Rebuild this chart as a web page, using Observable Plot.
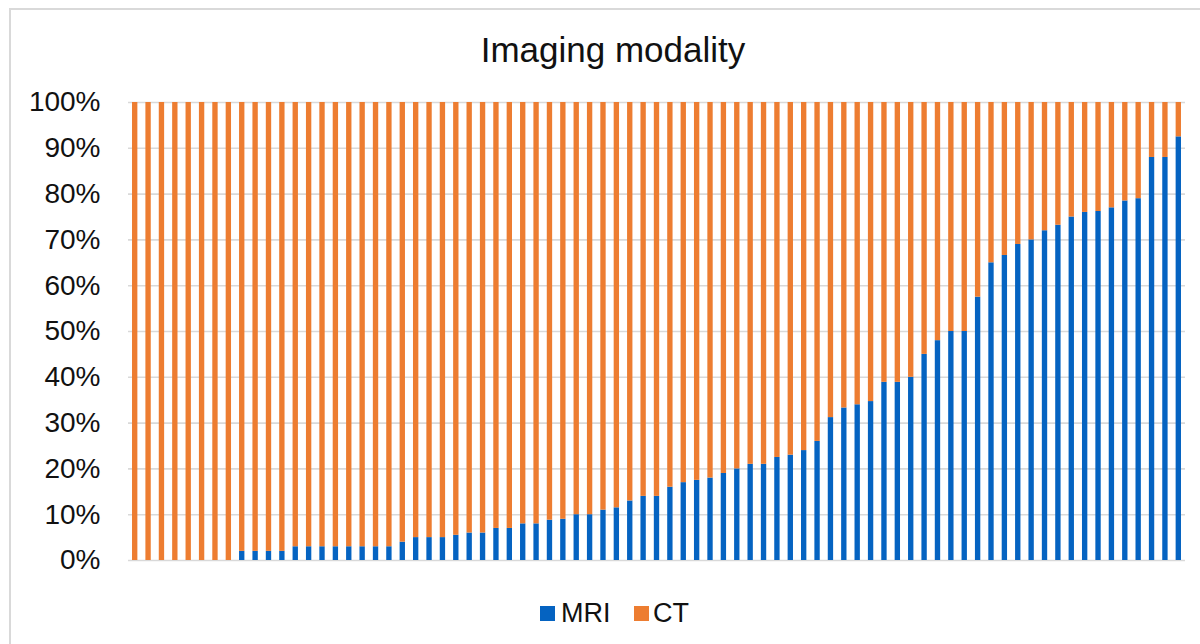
<!DOCTYPE html>
<html>
<head>
<meta charset="utf-8">
<script src="https://cdn.jsdelivr.net/npm/d3@7"></script>
<script src="https://cdn.jsdelivr.net/npm/@observablehq/plot@0.6"></script>
<style>
  html, body { margin: 0; padding: 0; background: #fff; }
  #wrap { position: relative; width: 1200px; height: 644px; overflow: hidden; font-family: "Liberation Sans", Arial, sans-serif; color: #111; }
  #border { position: absolute; left: 9px; top: 8px; width: 1300px; height: 800px; border: 2px solid #d9d9d9; box-sizing: border-box; }
  #chart { position: absolute; left: 0; top: 0; }
  #title { position: absolute; left: 0; width: 1226px; top: 32px; text-align: center; font-size: 35px; line-height: 35px; white-space: nowrap; }
  .lg-sq { position: absolute; width: 15px; height: 15px; top: 606px; }
  .lg-tx { position: absolute; font-size: 27px; line-height: 27px; top: 600px; white-space: nowrap; }
</style>
</head>
<body>
<div id="wrap">
  <div id="border"></div>
  <div id="chart"></div>
  <div id="title">Imaging modality</div>
  <div class="lg-sq" style="left:540px;background:#0563C1"></div>
  <div class="lg-tx" style="left:561px">MRI</div>
  <div class="lg-sq" style="left:634px;background:#ED7D31"></div>
  <div class="lg-tx" style="left:653px">CT</div>
</div>
<script>
// Series values (percent), one per study, sorted by MRI share
const seriesNames = ["MRI", "CT"];
const mri = [0,0,0,0,0,0,0,0, 2,2,2,2, 3,3,3,3,3,3,3,3, 4, 5,5,5, 5.5, 6,6, 7,7, 8,8, 8.8, 9, 10,10, 11, 11.5, 13, 14,14, 16, 17, 17.5, 18, 19, 20, 21,21, 22.5, 23, 24, 26, 31.2, 33.3, 34, 34.7, 38.9,38.9, 40, 45, 48, 50,50, 57.5, 65, 66.6, 69, 70, 72, 73.2, 75, 76, 76.2, 77, 78.5, 79, 88,88, 92.5];
const ct = [100,100,100,100,100,100,100,100, 98,98,98,98, 97,97,97,97,97,97,97,97, 96, 95,95,95, 94.5, 94,94, 93,93, 92,92, 91.2, 91, 90,90, 89, 88.5, 87, 86,86, 84, 83, 82.5, 82, 81, 80, 79,79, 77.5, 77, 76, 74, 68.8, 66.7, 66, 65.3, 61.1,61.1, 60, 55, 52, 50,50, 42.5, 35, 33.4, 31, 30, 28, 26.8, 25, 24, 23.8, 23, 21.5, 21, 12,12, 7.5];
const categories = mri.map((_, i) => i + 1);
const yTicks = [0, 10, 20, 30, 40, 50, 60, 70, 80, 90, 100];

const rows = [];
categories.forEach((c, i) => rows.push({cat: c, series: "MRI", value: mri[i]}));
categories.forEach((c, i) => rows.push({cat: c, series: "CT", value: ct[i]}));

const chart = Plot.plot({
  width: 1200,
  height: 644,
  marginLeft: 128,
  marginRight: 15,
  marginTop: 102,
  marginBottom: 84,
  style: { fontFamily: '"Liberation Sans", Arial, sans-serif', fontSize: "28px", color: "#111", background: "transparent" },
  x: { type: "band", domain: categories, paddingInner: 0.6, paddingOuter: 0.3, round: false, axis: null },
  y: { domain: [0, 100], ticks: yTicks, tickFormat: d => d + "%", tickSize: 0, tickPadding: 28, label: null },
  color: { domain: seriesNames, range: ["#0563C1", "#ED7D31"] },
  marks: [
    Plot.gridY(yTicks, { stroke: "#d9d9d9", strokeOpacity: 1, strokeWidth: 1.6 }),
    Plot.barY(rows, { x: "cat", y: "value", fill: "series" })
  ]
});
document.getElementById("chart").appendChild(chart);
</script>
</body>
</html>
